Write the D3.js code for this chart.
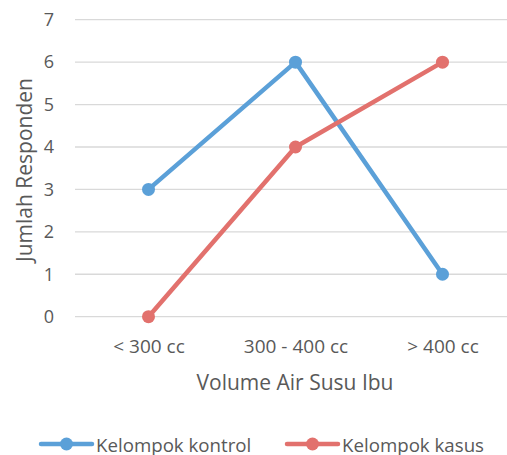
<!DOCTYPE html>
<html>
<head>
<meta charset="utf-8">
<script src="https://cdn.jsdelivr.net/npm/d3@7"></script>
<style>
  html, body { margin: 0; padding: 0; background: #fff; }
  svg { display: block; }
  text { font-family: "Open Sans", sans-serif; fill: #595959; }
</style>
</head>
<body>
<svg id="chart" width="507" height="455"></svg>
<script>
const categories = ["< 300 cc", "300 - 400 cc", "> 400 cc"];
const seriesNames = ["Kelompok kontrol", "Kelompok kasus"];
const kontrolValues = [3, 6, 1];
const kasusValues = [0, 4, 6];
const yTicks = [0, 1, 2, 3, 4, 5, 6, 7];
const colors = ["#5BA0D8", "#E2716D"];
const xTitle = "Volume Air Susu Ibu";
const yTitle = "Jumlah Responden";

const series = [
  { name: seriesNames[0], values: kontrolValues, color: colors[0] },
  { name: seriesNames[1], values: kasusValues, color: colors[1] }
];

const svg = d3.select("#chart");
const plotL = 75, plotR = 516, plotT = 19.7, plotB = 316.7;

const x = d3.scalePoint().domain(categories).range([plotL, plotR]).padding(0.5);
const y = d3.scaleLinear().domain([0, 7]).range([plotB, plotT]);

// gridlines
svg.append("g").selectAll("line").data(yTicks).join("line")
  .attr("x1", plotL).attr("x2", plotR)
  .attr("y1", d => y(d)).attr("y2", d => y(d))
  .attr("stroke", "#d9d9d9").attr("stroke-width", 1.3);

// y axis labels
const yAxis = d3.axisLeft(y).tickValues(yTicks).tickFormat(d3.format("d")).tickSize(0).tickPadding(0);
const gy = svg.append("g").attr("transform", "translate(54,0)").call(yAxis);
gy.select(".domain").remove();
gy.selectAll("text").attr("font-size", 18).attr("font-family", "Open Sans").attr("fill", "#595959");

// x axis labels
const xAxis = d3.axisBottom(x).tickSize(0).tickPadding(0);
const gx = svg.append("g").attr("transform", "translate(0,346)").call(xAxis);
gx.select(".domain").remove();
gx.selectAll("text").attr("y", 0).attr("dy", "0.35em")
  .attr("font-size", 19).attr("font-family", "Open Sans").attr("fill", "#595959");

// titles
svg.append("text").attr("x", 295).attr("y", 382).attr("text-anchor", "middle")
  .attr("dominant-baseline", "central").attr("font-size", 21).text(xTitle);
svg.append("text").attr("transform", "translate(24,170) rotate(-90)").attr("text-anchor", "middle")
  .attr("dominant-baseline", "central").attr("font-size", 21).text(yTitle);

// lines
const line = d3.line().x((d, i) => x(categories[i])).y(d => y(d));
series.forEach(s => {
  svg.append("path").datum(s.values).attr("d", line)
    .attr("fill", "none").attr("stroke", s.color).attr("stroke-width", 4.5)
    .attr("stroke-linejoin", "round");
  svg.append("g").selectAll("circle").data(s.values).join("circle")
    .attr("cx", (d, i) => x(categories[i])).attr("cy", d => y(d))
    .attr("r", 6.5).attr("fill", s.color);
});

// legend
const legendPos = [41, 287];
series.forEach((s, i) => {
  const g = svg.append("g").attr("transform", `translate(${legendPos[i]},444)`);
  g.append("line").attr("x1", 0).attr("x2", 51).attr("y1", 0).attr("y2", 0)
    .attr("stroke", s.color).attr("stroke-width", 4.5).attr("stroke-linecap", "round");
  g.append("circle").attr("cx", 25.5).attr("cy", 0).attr("r", 6.5).attr("fill", s.color);
  g.append("text").attr("x", 55).attr("y", 0).attr("dominant-baseline", "central")
    .attr("font-size", 18.7).text(s.name);
});
</script>
</body>
</html>
